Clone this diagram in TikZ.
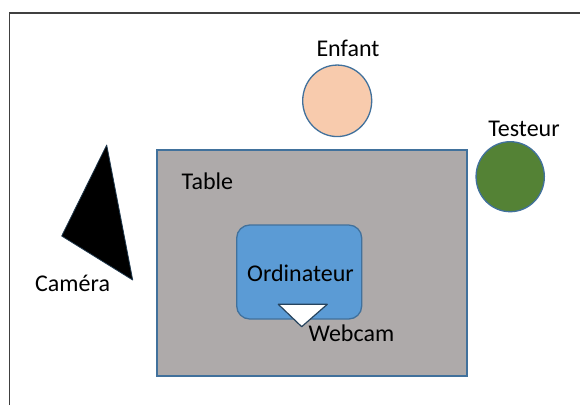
\documentclass[tikz,border=0pt]{standalone}
\usepackage{fontspec}
\setmainfont{Carlito}
\usetikzlibrary{shapes.geometric}
\definecolor{edgeblue}{HTML}{41719C}
\definecolor{tablegray}{HTML}{AEAAAA}
\definecolor{pcblue}{HTML}{5B9BD5}
\definecolor{childpeach}{HTML}{F8CBAD}
\definecolor{testgreen}{HTML}{548235}
\definecolor{framegray}{HTML}{404040}
\tikzset{
  shapebox/.style={draw=edgeblue, line width=1.3pt, inner sep=0pt},
  lbl/.style={font=\fontsize{24}{28}\selectfont, inner sep=0pt, text=black},
}
\begin{document}
\begin{tikzpicture}[x=1pt,y=-1pt]
\useasboundingbox (0,0) rectangle (580,405);
\fill[white] (0,0) rectangle (580,405);
% frame
\coordinate (fa) at (9.5,405);
\coordinate (fb) at (9.5,12.7);
\coordinate (fc) at (580,12.7);
\draw[framegray, line width=1.7pt] (fa) -- (fb) -- (fc);
% table
\node[shapebox, fill=tablegray, minimum width=310pt, minimum height=226pt] (table) at (312,263) {};
\node[lbl, anchor=base west] (tablelbl) at (181.5,189) {Table};
% computer
\node[shapebox, fill=pcblue, rounded corners=13pt, minimum width=125pt, minimum height=94pt] (pc) at (299.2,272) {};
\node[lbl, anchor=base] (pclbl) at (300.5,281) {Ordinateur};
% webcam
\coordinate (w1) at (278.3,304.3);
\coordinate (w2) at (327.3,304.3);
\coordinate (w3) at (301.7,326.7);
\draw[fill=white, draw=edgeblue!60!black, line width=1.2pt, line join=round] (w1) -- (w2) -- (w3) -- cycle;
\node[lbl, anchor=base west] (camlbl) at (308.3,341) {Webcam};
% child
\node[shapebox, fill=childpeach, ellipse, minimum width=69pt, minimum height=71.5pt] (child) at (337.2,100.8) {};
\node[lbl, anchor=base] (childlbl) at (348,56) {Enfant};
% tester
\node[shapebox, fill=testgreen, ellipse, minimum width=68.3pt, minimum height=70pt] (tester) at (510.2,176.7) {};
\node[lbl, anchor=base] (testerlbl) at (524,136) {Testeur};
% camera
\coordinate (c1) at (106.7,145);
\coordinate (c2) at (61.7,236);
\coordinate (c3) at (132.7,280);
\fill[black] (c1) -- (c2) -- (c3) -- cycle;
\draw[edgeblue!50!black, line width=0.8pt, line join=round] (c1) -- (c2) -- (c3) -- cycle;
\node[lbl, anchor=base west] (cameralbl) at (35,291.5) {Caméra};
\end{tikzpicture}
\end{document}
